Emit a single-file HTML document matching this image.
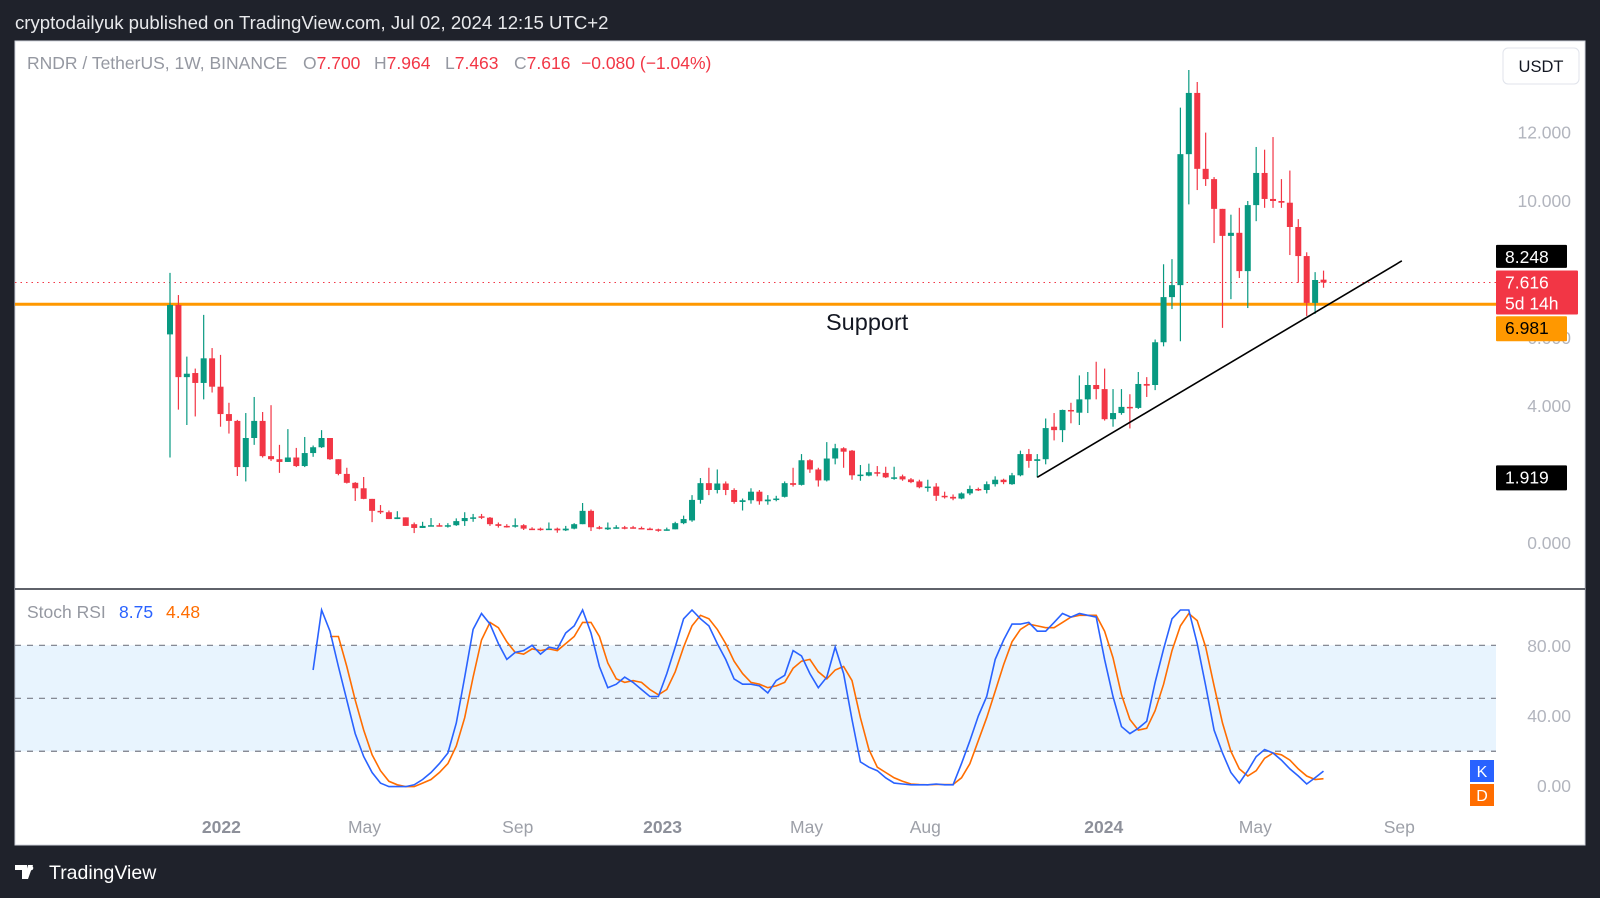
<!DOCTYPE html>
<html><head><meta charset="utf-8"><title>RNDR / TetherUS 1W</title>
<style>
html,body{margin:0;padding:0;background:#1f222b;width:1600px;height:898px;overflow:hidden;font-family:"Liberation Sans",Arial,sans-serif;}
svg{display:block}
</style></head>
<body>
<svg id="chart" width="1600" height="898" viewBox="0 0 1600 898" xmlns="http://www.w3.org/2000/svg">
  <rect x="0" y="0" width="1600" height="898" fill="#1f222b"/>
  <text x="15" y="29" fill="#e8e9ec" font-size="18.6" font-family="Liberation Sans, sans-serif">cryptodailyuk published on TradingView.com, Jul 02, 2024 12:15 UTC+2</text>
  <rect x="15" y="41" width="1570" height="804" fill="#ffffff" stroke="#d1d4dc" stroke-width="1"/>
  <g id="priceGrid"></g>
  <g id="stochPane"></g>
  <line x1="15" y1="589" x2="1585" y2="589" stroke="#2a2e39" stroke-width="1.5"/>
  <g id="overlay"></g>
  <g font-size="17.5" font-family="Liberation Sans, sans-serif">
    <text x="27" y="69" fill="#9598a1">RNDR / TetherUS, 1W, BINANCE</text>
    <text x="303" y="69" fill="#9598a1">O<tspan fill="#f23645">7.700</tspan></text>
    <text x="374" y="69" fill="#9598a1">H<tspan fill="#f23645">7.964</tspan></text>
    <text x="445" y="69" fill="#9598a1">L<tspan fill="#f23645">7.463</tspan></text>
    <text x="514" y="69" fill="#9598a1">C<tspan fill="#f23645">7.616</tspan></text>
    <text x="581" y="69" fill="#f23645">−0.080 (−1.04%)</text>
  </g>
  <g>
    <rect x="1503" y="48" width="76" height="36" rx="5" fill="#ffffff" stroke="#e0e3eb"/>
    <text x="1541" y="72" text-anchor="middle" font-size="16.5" fill="#131722">USDT</text>
  </g>
  <text x="826" y="330" font-size="23.5" fill="#131722">Support</text>
  <g font-size="17.5">
    <text x="27" y="618" fill="#9598a1">Stoch RSI</text>
    <text x="119" y="618" fill="#2962ff">8.75</text>
    <text x="166" y="618" fill="#ff6d00">4.48</text>
  </g>
  <g>
    <path d="M15 865 h12 v14 h-5 v-9 h-7z M28 865 l5 0 l-5 14 h-4z" fill="#ffffff"/>
    <circle cx="31" cy="868" r="2.3" fill="#ffffff"/>
    <text x="49" y="879" font-size="19.5" fill="#ffffff">TradingView</text>
  </g>
</svg>
<script>
// ---- price data (weekly candles) ----
const opens=[6.1,6.96,4.85,4.97,4.68,5.4,4.57,3.77,3.57,2.22,3.07,3.57,2.54,2.45,2.37,2.5,2.25,2.63,2.8,3.07,2.45,2.02,1.76,1.6,1.29,0.94,0.9,0.7,0.75,0.55,0.44,0.5,0.52,0.5,0.52,0.64,0.73,0.78,0.74,0.55,0.5,0.48,0.52,0.42,0.42,0.4,0.42,0.37,0.42,0.55,0.94,0.46,0.4,0.45,0.46,
0.46,0.44,0.42,0.4,0.38,0.4,0.58,0.66,1.26,1.75,1.55,1.74,1.55,1.2,1.25,1.5,1.22,1.27,1.35,1.75,1.7,2.42,2.15,1.83,2.47,2.77,2.7,1.98,1.97,2.07,2.05,1.9,1.95,1.86,1.8,1.63,1.65,1.38,1.35,1.3,1.45,1.58,1.55,1.72,1.85,1.72,1.98,2.6,2.4,2.45,3.4,3.3,
3.89,3.81,4.2,4.62,4.5,3.62,3.8,3.98,3.95,4.65,4.62,5.87,7.19,7.54,11.37,13.16,10.94,10.64,9.77,8.98,9.07,7.95,9.88,10.82,10.06,10.0,9.95,9.24,8.39,7.02,7.7];
const highs=[7.9,7.25,5.45,5.1,6.67,5.7,5.5,4.1,3.6,3.8,4.27,3.83,4.03,2.87,3.33,2.78,3.1,2.85,3.3,3.07,2.45,2.2,1.78,1.93,1.29,1.11,0.95,0.93,0.75,0.6,0.62,0.73,0.58,0.58,0.72,0.9,0.85,0.85,0.76,0.6,0.55,0.72,0.55,0.46,0.45,0.6,0.45,0.5,0.58,1.17,0.98,0.5,0.6,0.52,0.5,
0.5,0.48,0.45,0.42,0.45,0.62,0.8,1.4,1.9,2.2,2.15,1.8,1.6,1.3,1.6,1.55,1.4,1.38,1.8,2.2,2.6,2.45,2.2,2.95,2.9,2.8,2.72,2.28,2.32,2.25,2.23,2.23,2.0,1.9,1.85,1.85,1.75,1.5,1.42,1.48,1.68,1.62,1.8,1.95,1.88,2.05,2.7,2.75,2.6,3.64,3.8,3.9,
4.1,4.9,5.0,5.3,5.1,4.5,4.5,4.35,5.0,4.85,5.95,8.15,8.3,12.73,13.83,13.48,12.0,10.7,9.77,9.6,9.8,10.0,11.58,11.5,11.87,10.64,10.89,9.47,8.5,7.92,7.964];
const lows=[2.5,3.9,3.45,3.7,4.2,4.4,3.4,3.2,1.96,1.8,2.87,2.5,2.4,2.05,2.37,2.22,2.22,2.52,2.78,2.43,1.98,1.74,1.23,1.28,0.61,0.85,0.7,0.7,0.5,0.29,0.44,0.5,0.48,0.45,0.5,0.5,0.62,0.7,0.5,0.45,0.45,0.45,0.38,0.38,0.36,0.38,0.3,0.35,0.4,0.55,0.35,0.4,0.38,0.42,0.4,
0.42,0.4,0.38,0.33,0.36,0.4,0.55,0.62,1.15,1.4,1.45,1.4,1.15,0.95,1.15,1.12,1.12,1.22,1.33,1.65,1.68,2.05,1.65,1.8,2.3,2.2,1.85,1.82,1.95,1.95,1.9,1.85,1.82,1.75,1.6,1.5,1.23,1.3,1.25,1.28,1.4,1.52,1.45,1.65,1.72,1.7,1.95,2.2,1.92,2.3,3.0,2.95,
3.5,3.45,3.8,4.2,3.58,3.4,3.75,3.35,3.92,4.27,4.47,5.75,6.84,5.9,9.9,10.32,10.44,8.77,6.29,7.13,7.75,6.87,9.41,9.8,9.8,9.8,8.42,7.61,6.64,6.7,7.463];
const closes=[6.96,4.85,4.95,4.68,5.4,4.57,3.77,3.57,2.22,3.07,3.57,2.54,2.45,2.37,2.5,2.25,2.63,2.8,3.07,2.45,2.02,1.76,1.6,1.29,0.94,0.9,0.7,0.75,0.5,0.44,0.5,0.52,0.5,0.52,0.64,0.73,0.75,0.74,0.55,0.5,0.48,0.52,0.42,0.4,0.4,0.42,0.37,0.42,0.55,0.94,0.46,0.42,0.45,0.46,0.44,
0.44,0.42,0.4,0.38,0.4,0.58,0.7,1.26,1.75,1.55,1.74,1.55,1.2,1.25,1.5,1.22,1.27,1.3,1.75,1.7,2.42,2.15,1.83,2.47,2.77,2.67,1.98,2.0,2.07,2.05,1.92,1.92,1.86,1.78,1.63,1.65,1.38,1.35,1.3,1.45,1.58,1.55,1.72,1.85,1.78,1.98,2.6,2.4,2.45,3.36,3.3,3.89,
3.85,4.2,4.62,4.5,3.62,3.8,3.98,3.95,4.65,4.6,5.87,7.19,7.54,11.37,13.16,10.94,10.64,9.77,8.98,9.07,7.95,9.88,10.82,10.06,10.0,9.95,9.24,8.39,7.02,7.69,7.616];
// ---- stoch RSI (starts at candle 18 for K, candle 20 for D) ----
const kStart=17;
const kValues=[66,100,88,68,49,30,17,8,2,0,0,0,1,4,8,13,19,36,62,89,98,92,81,72,76,77,80,75,79,78,87,91,100,87,68,56,58,62,59,55,51,51,64,79,95,100,95,91,81,72,61,58,58,57,53,60,63,77,74,64,56,62,79,64,38,14,11,9,5,2,1.5,1,1,1,1.5,1,1,13,26,40,51,72,83,92,92,93,88,88,93,98,96,98,97,96,72,51,34,30,33,37,59,78,95,100,100,81,57,32,19,8,2,9,17,21,19,15,10,6,1.5,5,8.75];
const dStart=19;
const dValues=[85,85,68,49,32,18,9,3,1,0,0,2,4,8,13,23,39,62,83,93,90,82,76,75,78,77,78,77,81,85,93,93,85,70,61,59,60,59,55,52,55,65,79,91,97,95,89,81,71,64,59,58,56,57,59,67,71,72,65,61,66,68,60,39,21,11,8,5,3,1.5,1.2,1,1.2,1.2,1.2,5,13,26,39,54,69,82,89,92,91,90,90,93,96,97,97,97,88,73,52,38,32,33,43,58,77,91,98,94,79,57,36,20,10,6,9,16,19,18,15,10,6,4,4.48];
const priceTicks=[0,4,10,12];
const priceTickLabels=["0.000","4.000","10.000","12.000"];
const hiddenTicks=[6];
const stochTickValues=[80,40,0];
const stochTickLabels=["80.00","40.00","0.00"];
const stochLevels=[80,50,20];
const timeLabels=["2022","May","Sep","2023","May","Aug","2024","May","Sep"];
const timeLabelIdx=[6.1,23.1,41.3,58.5,75.6,89.7,110.9,128.9,146];
const timeLabelBold=[true,false,false,true,false,false,true,false,false];
const supportLevel=6.981;
const lastClose=7.616;
const markerHigh=8.248;
const trendStart=[103,1.919];
const trendEnd=[146.3,8.25];

const NS="http://www.w3.org/2000/svg";
function mk(tag,attrs,parent){const e=document.createElementNS(NS,tag);for(const k in attrs)e.setAttribute(k,attrs[k]);parent.appendChild(e);return e;}
const xOf=i=>170+i*8.42;
const yP=v=>543-v*34.2;
const yS=v=>786.6-v*1.766;
const plotRight=1496;
const pane=document.getElementById('priceGrid');
const sp=document.getElementById('stochPane');
const ov=document.getElementById('overlay');

priceTicks.forEach((v,i)=>{
  const t=mk('text',{x:1571,y:yP(v)+6,'text-anchor':'end','font-size':17.5,fill:'#b2b5be'},pane);
  t.textContent=priceTickLabels[i];
  
  
});
hiddenTicks.forEach(v=>{
  const t=mk('text',{x:1571,y:yP(v)+6,'text-anchor':'end','font-size':17.5,fill:'#b2b5be'},pane);
  t.textContent=v.toFixed(3);
  
  
});

const sl=mk('line',{x1:15,x2:plotRight,y1:yP(supportLevel),y2:yP(supportLevel),stroke:'#ff9800','stroke-width':3},pane);


const ll=mk('line',{x1:15,x2:plotRight,y1:yP(lastClose),y2:yP(lastClose),stroke:'#f23645','stroke-width':1,'stroke-dasharray':'1.5 4'},pane);



for(let i=0;i<closes.length;i++){
  const up=closes[i]>=opens[i];
  const col=up?'#089981':'#f23645';
  const g=mk('g',{},pane);
  
  
  const x=xOf(i);
  mk('line',{x1:x,x2:x,y1:yP(highs[i]),y2:yP(lows[i]),stroke:col,'stroke-width':1.2},g);
  const top=yP(Math.max(opens[i],closes[i])),bot=yP(Math.min(opens[i],closes[i]));
  mk('rect',{x:x-3,y:top,width:6,height:Math.max(1.5,bot-top),fill:col},g);
}

const tl=mk('line',{x1:xOf(trendStart[0]),y1:yP(trendStart[1]),x2:xOf(trendEnd[0]),y2:yP(trendEnd[1]),stroke:'#000000','stroke-width':1.6},pane);



function box(name,y,h,fill,lines,tc){
  const g=mk('g',{},ov);
  
  
  mk('rect',{x:1496,y:y,width:(lines.length>1?82:71),height:h,fill:fill,rx:1},g);
  lines.forEach((s,k)=>{const t=mk('text',{x:1505,y:y+18+k*21,'font-size':17.5,fill:tc},g);t.textContent=s;});
}
box('high-marker-label',yP(markerHigh)-16,23,'#000000',[markerHigh.toFixed(3)],'#ffffff');
box('last-price-label',yP(lastClose)-12,44,'#f23645',[lastClose.toFixed(3),'5d 14h'],'#ffffff');
box('support-price-label',yP(supportLevel)+12,25,'#ff9800',[supportLevel.toFixed(3)],'#000000');
box('trend-start-label',yP(trendStart[1])-12,25,'#000000',[trendStart[1].toFixed(3)],'#ffffff');

const band=mk('rect',{x:15,y:yS(80),width:plotRight-15,height:yS(20)-yS(80),fill:'rgba(33,150,243,0.1)'},sp);


stochLevels.forEach(v=>{
  const l=mk('line',{x1:15,x2:plotRight,y1:yS(v),y2:yS(v),stroke:'#787b86','stroke-width':1.2,'stroke-dasharray':'6 6'},sp);
  
  
});
stochTickValues.forEach((v,i)=>{
  const t=mk('text',{x:1571,y:[646,716,786][i]+6,'text-anchor':'end','font-size':17.5,fill:'#b2b5be'},sp);
  t.textContent=stochTickLabels[i];
  
  
});
const dPath=dValues.map((v,i)=>(i?'L':'M')+xOf(dStart+i).toFixed(1)+' '+yS(v).toFixed(1)).join(' ');
const dl=mk('path',{d:dPath,fill:'none',stroke:'#ff6d00','stroke-width':1.6},sp);


const kPath=kValues.map((v,i)=>(i?'L':'M')+xOf(kStart+i).toFixed(1)+' '+yS(v).toFixed(1)).join(' ');
const kl=mk('path',{d:kPath,fill:'none',stroke:'#2962ff','stroke-width':1.6},sp);


[['K','#2962ff',760,'k-badge'],['D','#ff6d00',784,'d-badge']].forEach(b=>{
  const g=mk('g',{},sp);
  
  
  mk('rect',{x:1470,y:b[2],width:24,height:22,fill:b[1]},g);
  const t=mk('text',{x:1482,y:b[2]+17,'text-anchor':'middle','font-size':16,fill:'#ffffff'},g);t.textContent=b[0];
});

timeLabels.forEach((s,i)=>{
  const t=mk('text',{x:xOf(timeLabelIdx[i]),y:833,'text-anchor':'middle','font-size':17.5,fill:timeLabelBold[i]?'#8d909a':'#9da0a8','font-weight':timeLabelBold[i]?'bold':'normal'},sp);
  t.textContent=s;
  
  
});
</script>
</body></html>
